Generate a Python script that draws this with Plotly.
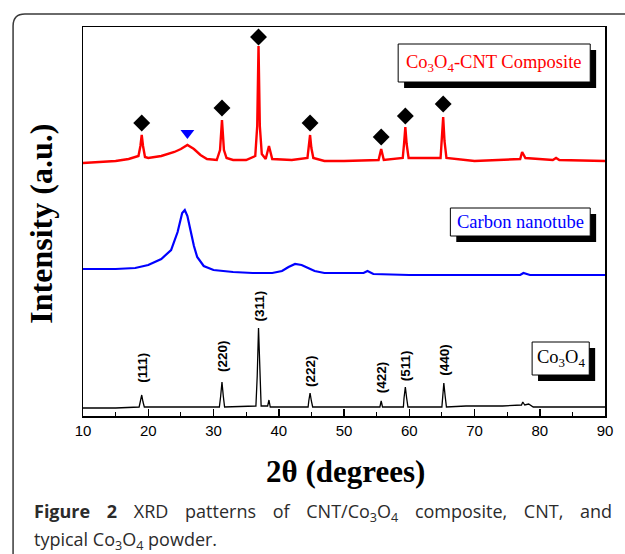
import plotly.graph_objects as go

# ---------------- data (2θ in degrees, intensity in a.u., stacked offsets included) -------------
comp_x = [10, 12, 15, 17, 18.5, 18.8, 19.0, 19.2, 19.5, 20, 22, 24, 25, 26, 27, 28, 29, 30.5,
          31.0, 31.3, 31.6, 32, 33, 35, 36.4, 36.7, 36.9, 37.1, 37.4, 38.0, 38.5, 39.0, 42,
          44.4, 44.6, 44.8, 45.0, 45.3, 47, 50, 55.3, 55.7, 56.1, 59.0, 59.2, 59.4, 59.6, 59.9,
          64.8, 65.0, 65.2, 65.4, 65.7, 70, 75, 77.0, 77.3, 77.8, 82, 82.5, 83, 90]
comp_y = [253, 254, 255, 257, 260, 270, 281, 270, 259, 258, 260, 264, 267, 271, 267, 261, 257, 256,
          266, 296, 266, 258, 256, 256, 260, 290, 370, 290, 262, 257, 270, 257, 256,
          258, 268, 281, 268, 258, 255, 255, 256, 267, 256, 258, 272, 289, 272, 258,
          258, 275, 299, 275, 258, 255, 256, 257, 264, 258, 256, 258, 256, 255]

cnt_x = [10, 15, 18, 20, 22, 23.5, 24.5, 25.2, 25.6, 26.0, 26.5, 27.0, 27.5, 28.5, 30, 33, 36, 39,
         40.5, 41.5, 42.5, 43.5, 44.5, 45.5, 47, 50, 53, 53.6, 54.5, 60, 70, 77.0, 77.5, 78.5, 90]
cnt_y = [147, 147, 148, 151, 157, 166, 184, 203, 206, 200, 185, 170, 159, 150, 146, 144, 143, 143,
         145, 149, 152, 151, 148, 145, 143, 143, 143, 145, 142, 141, 141, 141, 143, 141, 141]

co_x = [10, 15, 18.6, 18.8, 19.0, 19.2, 19.4, 25, 30.9, 31.1, 31.3, 31.5, 31.7, 36.5, 36.7, 36.9,
        37.1, 37.3, 38.3, 38.5, 38.7, 44.5, 44.6, 44.8, 45.0, 45.2, 55.5, 55.7, 55.9, 59.1, 59.2,
        59.4, 59.6, 59.8, 65.0, 65.1, 65.3, 65.5, 65.7, 68.7, 74.3, 77.2, 77.4, 77.7, 78.3, 79, 90]
co_y = [8, 8, 9, 14, 21, 14, 9, 9, 9, 20, 34, 20, 9, 10, 40, 88,
        40, 10, 10, 16, 9, 9, 15, 23, 15, 9, 9, 15, 9, 9, 18,
        29, 18, 9, 9, 20, 33, 20, 9, 10, 10, 11, 14, 11, 12, 9, 9]

# Co3O4 reflection markers on the composite curve
diamond_x = [19.0, 31.3, 36.9, 44.8, 55.7, 59.4, 65.2]
diamond_y = [293, 308, 379, 293, 279, 300, 312]
cnt_mark_x = [26.0]
cnt_mark_y = [283]

# hkl labels of the Co3O4 pattern
hkl_labels = ["(111)", "(220)", "(311)", "(222)", "(422)", "(511)", "(440)"]
hkl_x = [19.0, 31.3, 36.9, 44.8, 55.7, 59.4, 65.3]
hkl_y = [48, 60, 110, 45, 39, 50, 56]

x_ticks = [10, 20, 30, 40, 50, 60, 70, 80, 90]

# ---------------- layout geometry (pixels) -------------
W, H = 625, 554
L, R, T, B = 83, 613, 27, 416


def px(x):
    return (x - L) / (R - L)


def py(y):
    return (B - y) / (B - T)


fig = go.Figure()
fig.add_trace(go.Scatter(x=comp_x, y=comp_y, mode="lines",
                         line=dict(color="#ff0000", width=2.4), hoverinfo="skip"))
fig.add_trace(go.Scatter(x=cnt_x, y=cnt_y, mode="lines",
                         line=dict(color="#0000ff", width=2.2), hoverinfo="skip"))
fig.add_trace(go.Scatter(x=co_x, y=co_y, mode="lines",
                         line=dict(color="#000000", width=1.3), hoverinfo="skip"))
fig.add_trace(go.Scatter(x=diamond_x, y=diamond_y, mode="markers",
                         marker=dict(symbol="diamond", size=13, color="black"), hoverinfo="skip"))
fig.add_trace(go.Scatter(x=cnt_mark_x, y=cnt_mark_y, mode="markers",
                         marker=dict(symbol="triangle-down", size=12, color="#0000ff"), hoverinfo="skip"))

annotations = []
for lab, hx, hy in zip(hkl_labels, hkl_x, hkl_y):
    annotations.append(dict(x=hx, y=hy, xref="x", yref="y", text="<b>" + lab + "</b>",
                            showarrow=False, textangle=-90,
                            font=dict(family="Liberation Sans, Arial", size=13.5, color="black")))

shapes = []
serif = "Liberation Serif, Times New Roman, serif"


def label_box(x0, y0, x1, y1, text, color):
    shapes.append(dict(type="rect", xref="paper", yref="paper", layer="above",
                       x0=px(x0 + 6), x1=px(x1 + 6), y0=py(y1 + 6), y1=py(y0 + 6),
                       fillcolor="black", line=dict(width=0)))
    shapes.append(dict(type="rect", xref="paper", yref="paper", layer="above",
                       x0=px(x0), x1=px(x1), y0=py(y1), y1=py(y0),
                       fillcolor="white", line=dict(color="black", width=1)))
    annotations.append(dict(x=px((x0 + x1) / 2), y=py((y0 + y1) / 2), xref="paper", yref="paper",
                            text=text, showarrow=False, xanchor="center", yanchor="middle",
                            font=dict(family=serif, size=18.5, color=color)))


label_box(403, 44, 598, 82, "Co<sub>3</sub>O<sub>4</sub>-CNT Composite", "#ff0000")
label_box(456, 208, 598, 236, "Carbon nanotube", "#0000ff")
label_box(539, 342, 597, 375, "Co<sub>3</sub>O<sub>4</sub>", "black")

# outer rounded frame
fx0, fy0, r = 12, 14, 12
path = (f"M {px(fx0)} {py(600)} L {px(fx0)} {py(fy0 + r)} "
        f"Q {px(fx0)} {py(fy0)} {px(fx0 + r)} {py(fy0)} L {px(700)} {py(fy0)}")
shapes.append(dict(type="path", xref="paper", yref="paper", path=path,
                   line=dict(color="#3a3a3a", width=1.5)))

# axis titles
annotations.append(dict(x=px(40), y=py(224), xref="paper", yref="paper",
                        text="<b>Intensity (a.u.)</b>",
                        showarrow=False, textangle=-90, xanchor="center", yanchor="middle",
                        font=dict(family=serif, size=32, color="black")))
annotations.append(dict(x=px(350), y=py(471), xref="paper", yref="paper", text="<b>2θ (degrees)</b>",
                        showarrow=False, xanchor="center", yanchor="middle",
                        font=dict(family=serif, size=31, color="black")))

# caption (justified first line -> wider word spacing)
cap_font = dict(family="Open Sans, Noto Sans, sans-serif", size=18, color="#2b2b2b")
annotations.append(dict(x=px(31), y=py(512), xref="paper", yref="paper", xanchor="left",
                        yanchor="middle", showarrow=False, font=cap_font,
                        text=('<span style="word-spacing:12px"><b>Figure 2</b> XRD patterns of '
                              'CNT/Co<sub>3</sub>O<sub>4</sub> composite, CNT, and</span>')))
annotations.append(dict(x=px(31), y=py(540), xref="paper", yref="paper", xanchor="left",
                        yanchor="middle", showarrow=False, font=cap_font,
                        text="typical Co<sub>3</sub>O<sub>4</sub> powder."))

fig.update_layout(
    width=W, height=H, autosize=False,
    margin=dict(l=L, r=W - R, t=T, b=H - B, pad=0),
    paper_bgcolor="white", plot_bgcolor="white",
    showlegend=False,
    xaxis=dict(range=[10, 90], tickvals=x_ticks, ticktext=[str(v) for v in x_ticks],
               ticks="inside", ticklen=7, tickwidth=1.5, tickcolor="black",
               minor=dict(dtick=5, ticks="inside", ticklen=4, tickwidth=1.2, tickcolor="black"),
               showline=True, linecolor="black", linewidth=1.5, mirror=True,
               showgrid=False, zeroline=False,
               tickfont=dict(family="Liberation Sans, Arial", size=15, color="black")),
    yaxis=dict(range=[0, B - T], showticklabels=False, ticks="", showline=True,
               linecolor="black", linewidth=1.5, mirror=True, showgrid=False, zeroline=False),
    shapes=shapes, annotations=annotations,
)

fig.write_html("out.html", config={"displayModeBar": False, "staticPlot": True},
               post_script="document.body.style.margin='0px';document.body.style.overflow='hidden';")
